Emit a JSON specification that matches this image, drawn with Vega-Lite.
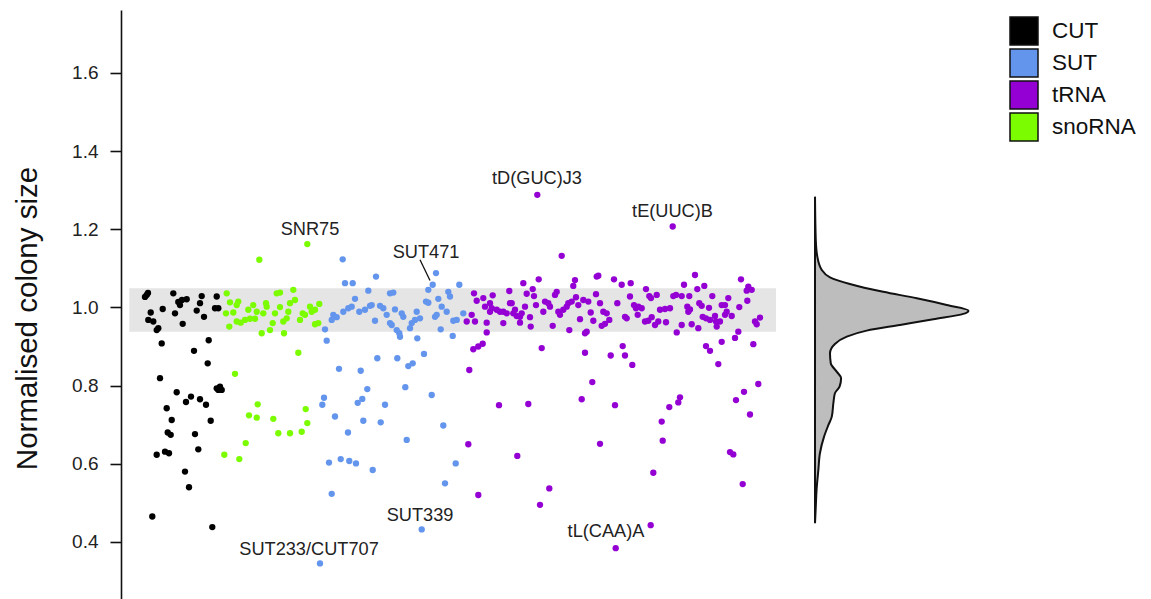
{
"$schema": "https://vega.github.io/schema/vega-lite/v6.json",
"width": 1030, "height": 589,
"autosize": {"type": "none"},
"padding": {"left": 121, "top": 10, "right": 0, "bottom": 0},
"background": "white",
"config": {"view": {"stroke": null}, "font": "Liberation Sans",
 "axisY": {"domainColor": "#111", "domainWidth": 1.6, "tickColor": "#111", "tickWidth": 1.6, "tickSize": 11, "labelFontSize": 19, "labelColor": "#222", "labelPadding": 12, "titleFontSize": 29.5, "titleFontWeight": "normal", "titleColor": "#111", "titlePadding": 29, "titleY": 308, "grid": false}},
"datasets": {
"pts": [
{"x":25.7,"y":1.032,"t":"CUT"},{"x":24,"y":1.027,"t":"CUT"},{"x":27,"y":1.037,"t":"CUT"},{"x":52.3,"y":1.036,"t":"CUT"},{"x":57.3,"y":1.014,"t":"CUT"},{"x":59,"y":1.006,"t":"CUT"},{"x":61,"y":1.019,"t":"CUT"},{"x":65.7,"y":1.021,"t":"CUT"},{"x":80.7,"y":1.029,"t":"CUT"},{"x":79,"y":1.011,"t":"CUT"},{"x":95.7,"y":1.028,"t":"CUT"},{"x":29.7,"y":0.987,"t":"CUT"},{"x":41.7,"y":0.996,"t":"CUT"},{"x":54,"y":0.985,"t":"CUT"},{"x":75.7,"y":0.992,"t":"CUT"},{"x":83,"y":0.976,"t":"CUT"},{"x":94,"y":0.998,"t":"CUT"},{"x":97.3,"y":0.998,"t":"CUT"},{"x":27.3,"y":0.968,"t":"CUT"},{"x":32.3,"y":0.964,"t":"CUT"},{"x":61.7,"y":0.958,"t":"CUT"},{"x":35.7,"y":0.942,"t":"CUT"},{"x":37.3,"y":0.947,"t":"CUT"},{"x":40.7,"y":0.908,"t":"CUT"},{"x":73,"y":0.889,"t":"CUT"},{"x":87.7,"y":0.916,"t":"CUT"},{"x":86.7,"y":0.857,"t":"CUT"},{"x":39,"y":0.819,"t":"CUT"},{"x":55.7,"y":0.783,"t":"CUT"},{"x":70,"y":0.772,"t":"CUT"},{"x":65,"y":0.758,"t":"CUT"},{"x":79,"y":0.765,"t":"CUT"},{"x":85,"y":0.751,"t":"CUT"},{"x":95.7,"y":0.793,"t":"CUT"},{"x":99,"y":0.797,"t":"CUT"},{"x":100.7,"y":0.789,"t":"CUT"},{"x":97.3,"y":0.789,"t":"CUT"},{"x":45.7,"y":0.742,"t":"CUT"},{"x":50.7,"y":0.712,"t":"CUT"},{"x":89.7,"y":0.71,"t":"CUT"},{"x":46.7,"y":0.68,"t":"CUT"},{"x":49.7,"y":0.674,"t":"CUT"},{"x":74,"y":0.676,"t":"CUT"},{"x":77.3,"y":0.637,"t":"CUT"},{"x":35.7,"y":0.623,"t":"CUT"},{"x":44,"y":0.631,"t":"CUT"},{"x":48,"y":0.627,"t":"CUT"},{"x":64,"y":0.58,"t":"CUT"},{"x":68,"y":0.54,"t":"CUT"},{"x":31.3,"y":0.465,"t":"CUT"},{"x":91.3,"y":0.438,"t":"CUT"},
{"x":105.7,"y":1.036,"t":"snoRNA"},{"x":109,"y":1.013,"t":"snoRNA"},{"x":117.3,"y":1.015,"t":"snoRNA"},{"x":115.7,"y":1.006,"t":"snoRNA"},{"x":105,"y":0.985,"t":"snoRNA"},{"x":112.3,"y":0.987,"t":"snoRNA"},{"x":108.3,"y":0.951,"t":"snoRNA"},{"x":115.7,"y":0.964,"t":"snoRNA"},{"x":119.7,"y":0.961,"t":"snoRNA"},{"x":124,"y":0.968,"t":"snoRNA"},{"x":129,"y":0.971,"t":"snoRNA"},{"x":134,"y":0.971,"t":"snoRNA"},{"x":127.3,"y":0.994,"t":"snoRNA"},{"x":132.3,"y":1.006,"t":"snoRNA"},{"x":135.7,"y":0.989,"t":"snoRNA"},{"x":145,"y":1.011,"t":"snoRNA"},{"x":145.7,"y":1.002,"t":"snoRNA"},{"x":142.3,"y":0.985,"t":"snoRNA"},{"x":140.7,"y":0.934,"t":"snoRNA"},{"x":149,"y":0.942,"t":"snoRNA"},{"x":151.7,"y":0.96,"t":"snoRNA"},{"x":155.7,"y":1.036,"t":"snoRNA"},{"x":159,"y":1.038,"t":"snoRNA"},{"x":154,"y":0.985,"t":"snoRNA"},{"x":159,"y":1.001,"t":"snoRNA"},{"x":163,"y":0.934,"t":"snoRNA"},{"x":162.3,"y":0.964,"t":"snoRNA"},{"x":165.7,"y":0.972,"t":"snoRNA"},{"x":167.3,"y":0.989,"t":"snoRNA"},{"x":169,"y":1.011,"t":"snoRNA"},{"x":172.3,"y":1.045,"t":"snoRNA"},{"x":174,"y":1.019,"t":"snoRNA"},{"x":179,"y":0.968,"t":"snoRNA"},{"x":181.7,"y":0.985,"t":"snoRNA"},{"x":184,"y":0.981,"t":"snoRNA"},{"x":189,"y":1.002,"t":"snoRNA"},{"x":190.7,"y":0.989,"t":"snoRNA"},{"x":194,"y":0.994,"t":"snoRNA"},{"x":198.3,"y":1.009,"t":"snoRNA"},{"x":194,"y":0.957,"t":"snoRNA"},{"x":197.3,"y":0.96,"t":"snoRNA"},{"x":177.3,"y":0.884,"t":"snoRNA"},{"x":114,"y":0.83,"t":"snoRNA"},{"x":136.7,"y":0.752,"t":"snoRNA"},{"x":128,"y":0.724,"t":"snoRNA"},{"x":135.7,"y":0.718,"t":"snoRNA"},{"x":152.3,"y":0.715,"t":"snoRNA"},{"x":157.3,"y":0.678,"t":"snoRNA"},{"x":169,"y":0.678,"t":"snoRNA"},{"x":180.7,"y":0.682,"t":"snoRNA"},{"x":184.7,"y":0.74,"t":"snoRNA"},{"x":186.3,"y":0.704,"t":"snoRNA"},{"x":124.7,"y":0.653,"t":"snoRNA"},{"x":103.3,"y":0.623,"t":"snoRNA"},{"x":118.3,"y":0.612,"t":"snoRNA"},{"x":138.3,"y":1.122,"t":"snoRNA"},{"x":186.3,"y":1.162,"t":"snoRNA"},
{"x":204,"y":0.944,"t":"SUT"},{"x":205.7,"y":0.915,"t":"SUT"},{"x":218,"y":0.843,"t":"SUT"},{"x":203,"y":0.769,"t":"SUT"},{"x":201.3,"y":0.751,"t":"SUT"},{"x":214,"y":0.721,"t":"SUT"},{"x":227,"y":0.68,"t":"SUT"},{"x":208,"y":0.603,"t":"SUT"},{"x":219.7,"y":0.612,"t":"SUT"},{"x":228.3,"y":0.607,"t":"SUT"},{"x":210.7,"y":0.523,"t":"SUT"},{"x":199,"y":0.345,"t":"SUT"},
{"x":221.7,"y":1.123,"t":"SUT"},{"x":224,"y":1.062,"t":"SUT"},{"x":231.7,"y":1.062,"t":"SUT"},{"x":255,"y":1.079,"t":"SUT"},{"x":247.3,"y":1.043,"t":"SUT"},{"x":234,"y":1.022,"t":"SUT"},{"x":269,"y":1.036,"t":"SUT"},{"x":272.3,"y":1.038,"t":"SUT"},{"x":315,"y":1.088,"t":"SUT"},{"x":307.3,"y":1.045,"t":"SUT"},{"x":311.7,"y":1.058,"t":"SUT"},{"x":338.3,"y":1.058,"t":"SUT"},{"x":327.3,"y":1.04,"t":"SUT"},{"x":329,"y":1.028,"t":"SUT"},{"x":317.3,"y":1.022,"t":"SUT"},{"x":212.3,"y":0.981,"t":"SUT"},{"x":215.7,"y":0.975,"t":"SUT"},{"x":210.7,"y":0.968,"t":"SUT"},{"x":222.3,"y":0.989,"t":"SUT"},{"x":227.3,"y":0.998,"t":"SUT"},{"x":230.7,"y":1.002,"t":"SUT"},{"x":238.3,"y":0.989,"t":"SUT"},{"x":244,"y":0.994,"t":"SUT"},{"x":249,"y":1.004,"t":"SUT"},{"x":250.7,"y":1.006,"t":"SUT"},{"x":259,"y":1.004,"t":"SUT"},{"x":262.3,"y":0.998,"t":"SUT"},{"x":254,"y":0.966,"t":"SUT"},{"x":265.7,"y":0.981,"t":"SUT"},{"x":269,"y":0.96,"t":"SUT"},{"x":270.7,"y":0.955,"t":"SUT"},{"x":274,"y":0.995,"t":"SUT"},{"x":280.7,"y":0.985,"t":"SUT"},{"x":282.3,"y":0.976,"t":"SUT"},{"x":275.7,"y":0.942,"t":"SUT"},{"x":278.3,"y":0.934,"t":"SUT"},{"x":279,"y":0.925,"t":"SUT"},{"x":290.7,"y":0.96,"t":"SUT"},{"x":289,"y":0.947,"t":"SUT"},{"x":295.7,"y":0.989,"t":"SUT"},{"x":294,"y":0.968,"t":"SUT"},{"x":299,"y":0.972,"t":"SUT"},{"x":305,"y":1.015,"t":"SUT"},{"x":307.3,"y":1.012,"t":"SUT"},{"x":314,"y":0.976,"t":"SUT"},{"x":315.7,"y":0.981,"t":"SUT"},{"x":320.7,"y":1.002,"t":"SUT"},{"x":325.7,"y":0.989,"t":"SUT"},{"x":319.7,"y":0.944,"t":"SUT"},{"x":296.3,"y":0.921,"t":"SUT"},{"x":332.3,"y":0.966,"t":"SUT"},{"x":335.7,"y":0.968,"t":"SUT"},{"x":331.7,"y":0.927,"t":"SUT"},{"x":342.3,"y":0.985,"t":"SUT"},{"x":303,"y":0.881,"t":"SUT"},{"x":256.3,"y":0.87,"t":"SUT"},{"x":276.3,"y":0.87,"t":"SUT"},{"x":287.3,"y":0.85,"t":"SUT"},{"x":291.7,"y":0.857,"t":"SUT"},{"x":239.7,"y":0.838,"t":"SUT"},{"x":246.3,"y":0.791,"t":"SUT"},{"x":236.7,"y":0.756,"t":"SUT"},{"x":241.3,"y":0.766,"t":"SUT"},{"x":264,"y":0.751,"t":"SUT"},{"x":284.3,"y":0.796,"t":"SUT"},{"x":310.7,"y":0.776,"t":"SUT"},{"x":242.3,"y":0.71,"t":"SUT"},{"x":259.7,"y":0.706,"t":"SUT"},{"x":322.3,"y":0.698,"t":"SUT"},{"x":285.7,"y":0.661,"t":"SUT"},{"x":251.7,"y":0.584,"t":"SUT"},{"x":334.7,"y":0.601,"t":"SUT"},{"x":324,"y":0.55,"t":"SUT"},{"x":300.7,"y":0.432,"t":"SUT"},{"x":235,"y":0.601,"t":"SUT"},
{"x":353,"y":1.036,"t":"tRNA"},{"x":355.7,"y":1.017,"t":"tRNA"},{"x":345.7,"y":0.964,"t":"tRNA"},{"x":354,"y":0.964,"t":"tRNA"},{"x":350.7,"y":0.981,"t":"tRNA"},{"x":352.3,"y":0.893,"t":"tRNA"},{"x":357.3,"y":0.9,"t":"tRNA"},{"x":348.3,"y":0.84,"t":"tRNA"},{"x":347.3,"y":0.65,"t":"tRNA"},{"x":357.3,"y":0.52,"t":"tRNA"},
{"x":416.3,"y":1.288,"t":"tRNA"},{"x":440.7,"y":1.132,"t":"tRNA"},{"x":417.7,"y":1.072,"t":"tRNA"},{"x":402.3,"y":1.062,"t":"tRNA"},{"x":411.7,"y":1.047,"t":"tRNA"},{"x":388.3,"y":1.042,"t":"tRNA"},{"x":371.7,"y":1.031,"t":"tRNA"},{"x":362.3,"y":1.024,"t":"tRNA"},{"x":364,"y":1.002,"t":"tRNA"},{"x":369,"y":1.011,"t":"tRNA"},{"x":370.7,"y":0.998,"t":"tRNA"},{"x":369,"y":0.989,"t":"tRNA"},{"x":375.7,"y":0.994,"t":"tRNA"},{"x":379,"y":0.989,"t":"tRNA"},{"x":382.3,"y":0.989,"t":"tRNA"},{"x":385.7,"y":0.985,"t":"tRNA"},{"x":389,"y":1.011,"t":"tRNA"},{"x":390.7,"y":1.011,"t":"tRNA"},{"x":392.3,"y":0.985,"t":"tRNA"},{"x":395.7,"y":0.978,"t":"tRNA"},{"x":394,"y":0.994,"t":"tRNA"},{"x":399,"y":0.976,"t":"tRNA"},{"x":400.7,"y":0.985,"t":"tRNA"},{"x":404,"y":1.002,"t":"tRNA"},{"x":405.7,"y":1.035,"t":"tRNA"},{"x":413,"y":1.029,"t":"tRNA"},{"x":415,"y":1.006,"t":"tRNA"},{"x":422.3,"y":0.989,"t":"tRNA"},{"x":424,"y":1.015,"t":"tRNA"},{"x":427.3,"y":1.011,"t":"tRNA"},{"x":429,"y":1.002,"t":"tRNA"},{"x":434,"y":1.032,"t":"tRNA"},{"x":435.7,"y":1.04,"t":"tRNA"},{"x":437.3,"y":0.989,"t":"tRNA"},{"x":439,"y":0.981,"t":"tRNA"},{"x":442.3,"y":0.994,"t":"tRNA"},{"x":445.7,"y":1.002,"t":"tRNA"},{"x":447.3,"y":1.011,"t":"tRNA"},{"x":450.7,"y":1.015,"t":"tRNA"},{"x":452.3,"y":1.055,"t":"tRNA"},{"x":454,"y":1.07,"t":"tRNA"},{"x":455,"y":1.026,"t":"tRNA"},{"x":457.3,"y":1.006,"t":"tRNA"},{"x":462.3,"y":1.019,"t":"tRNA"},{"x":467.3,"y":1.015,"t":"tRNA"},{"x":469.7,"y":0.987,"t":"tRNA"},{"x":475.7,"y":1.079,"t":"tRNA"},{"x":477.3,"y":1.081,"t":"tRNA"},{"x":475,"y":1.034,"t":"tRNA"},{"x":479,"y":1.011,"t":"tRNA"},{"x":482.3,"y":0.989,"t":"tRNA"},{"x":485.7,"y":0.985,"t":"tRNA"},{"x":493,"y":1.072,"t":"tRNA"},{"x":496.3,"y":1.011,"t":"tRNA"},{"x":365.7,"y":0.961,"t":"tRNA"},{"x":382.3,"y":0.96,"t":"tRNA"},{"x":399,"y":0.961,"t":"tRNA"},{"x":409,"y":0.975,"t":"tRNA"},{"x":409.7,"y":0.951,"t":"tRNA"},{"x":431.7,"y":0.953,"t":"tRNA"},{"x":448.3,"y":0.942,"t":"tRNA"},{"x":459,"y":0.97,"t":"tRNA"},{"x":464,"y":0.934,"t":"tRNA"},{"x":465.7,"y":0.938,"t":"tRNA"},{"x":472.3,"y":0.966,"t":"tRNA"},{"x":480.7,"y":0.953,"t":"tRNA"},{"x":484,"y":0.958,"t":"tRNA"},{"x":365.7,"y":0.936,"t":"tRNA"},{"x":361.7,"y":0.907,"t":"tRNA"},{"x":420.7,"y":0.896,"t":"tRNA"},{"x":464,"y":0.884,"t":"tRNA"},{"x":489.7,"y":0.877,"t":"tRNA"},{"x":471.3,"y":0.809,"t":"tRNA"},{"x":378,"y":0.75,"t":"tRNA"},{"x":407.3,"y":0.753,"t":"tRNA"},{"x":460.7,"y":0.765,"t":"tRNA"},{"x":494,"y":0.75,"t":"tRNA"},{"x":396.3,"y":0.62,"t":"tRNA"},{"x":479,"y":0.651,"t":"tRNA"},{"x":428.3,"y":0.537,"t":"tRNA"},{"x":419,"y":0.495,"t":"tRNA"},{"x":494.7,"y":0.384,"t":"tRNA"},
{"x":551.7,"y":1.207,"t":"tRNA"},{"x":500.7,"y":1.058,"t":"tRNA"},{"x":509.7,"y":1.062,"t":"tRNA"},{"x":525,"y":1.047,"t":"tRNA"},{"x":528.3,"y":1.029,"t":"tRNA"},{"x":530,"y":1.024,"t":"tRNA"},{"x":535.7,"y":1.032,"t":"tRNA"},{"x":509,"y":1.028,"t":"tRNA"},{"x":513,"y":1.006,"t":"tRNA"},{"x":515,"y":0.998,"t":"tRNA"},{"x":517.3,"y":1.002,"t":"tRNA"},{"x":520.7,"y":0.998,"t":"tRNA"},{"x":504,"y":0.976,"t":"tRNA"},{"x":505.7,"y":0.972,"t":"tRNA"},{"x":516.7,"y":0.981,"t":"tRNA"},{"x":524,"y":0.964,"t":"tRNA"},{"x":527.3,"y":0.966,"t":"tRNA"},{"x":530.7,"y":0.975,"t":"tRNA"},{"x":534,"y":0.955,"t":"tRNA"},{"x":537.3,"y":0.964,"t":"tRNA"},{"x":539,"y":0.994,"t":"tRNA"},{"x":544,"y":0.996,"t":"tRNA"},{"x":549,"y":0.998,"t":"tRNA"},{"x":545,"y":0.962,"t":"tRNA"},{"x":488.3,"y":0.968,"t":"tRNA"},{"x":552.3,"y":1.029,"t":"tRNA"},{"x":555,"y":1.032,"t":"tRNA"},{"x":560.7,"y":1.029,"t":"tRNA"},{"x":568.3,"y":1.029,"t":"tRNA"},{"x":563,"y":1.058,"t":"tRNA"},{"x":574,"y":1.083,"t":"tRNA"},{"x":576.3,"y":1.047,"t":"tRNA"},{"x":583.3,"y":1.055,"t":"tRNA"},{"x":566.3,"y":1.002,"t":"tRNA"},{"x":567.3,"y":0.989,"t":"tRNA"},{"x":569,"y":0.995,"t":"tRNA"},{"x":578.3,"y":1.011,"t":"tRNA"},{"x":580.7,"y":1.004,"t":"tRNA"},{"x":588,"y":0.999,"t":"tRNA"},{"x":591.3,"y":1.029,"t":"tRNA"},{"x":581.7,"y":0.976,"t":"tRNA"},{"x":585,"y":0.972,"t":"tRNA"},{"x":589,"y":0.968,"t":"tRNA"},{"x":594,"y":0.978,"t":"tRNA"},{"x":595,"y":0.964,"t":"tRNA"},{"x":599,"y":0.964,"t":"tRNA"},{"x":595.7,"y":0.951,"t":"tRNA"},{"x":600.7,"y":1.006,"t":"tRNA"},{"x":604,"y":1.006,"t":"tRNA"},{"x":607.3,"y":1.024,"t":"tRNA"},{"x":604,"y":0.981,"t":"tRNA"},{"x":605.7,"y":0.989,"t":"tRNA"},{"x":610.7,"y":0.978,"t":"tRNA"},{"x":618.3,"y":1.001,"t":"tRNA"},{"x":620,"y":1.072,"t":"tRNA"},{"x":625.7,"y":1.043,"t":"tRNA"},{"x":627.3,"y":1.053,"t":"tRNA"},{"x":630.7,"y":1.045,"t":"tRNA"},{"x":626.3,"y":1.017,"t":"tRNA"},{"x":634,"y":0.964,"t":"tRNA"},{"x":635.7,"y":0.957,"t":"tRNA"},{"x":639,"y":0.974,"t":"tRNA"},{"x":560.7,"y":0.955,"t":"tRNA"},{"x":570.7,"y":0.957,"t":"tRNA"},{"x":577.3,"y":0.947,"t":"tRNA"},{"x":555.7,"y":0.936,"t":"tRNA"},{"x":617.3,"y":0.938,"t":"tRNA"},{"x":614,"y":0.922,"t":"tRNA"},{"x":600.7,"y":0.912,"t":"tRNA"},{"x":632.3,"y":0.906,"t":"tRNA"},{"x":585,"y":0.901,"t":"tRNA"},{"x":589,"y":0.889,"t":"tRNA"},{"x":597.3,"y":0.855,"t":"tRNA"},{"x":501.7,"y":0.901,"t":"tRNA"},{"x":504,"y":0.877,"t":"tRNA"},{"x":511.3,"y":0.853,"t":"tRNA"},{"x":637.3,"y":0.804,"t":"tRNA"},{"x":623,"y":0.784,"t":"tRNA"},{"x":615,"y":0.763,"t":"tRNA"},{"x":559,"y":0.77,"t":"tRNA"},{"x":557.3,"y":0.757,"t":"tRNA"},{"x":548.3,"y":0.745,"t":"tRNA"},{"x":540.7,"y":0.708,"t":"tRNA"},{"x":541.7,"y":0.659,"t":"tRNA"},{"x":629,"y":0.726,"t":"tRNA"},{"x":609,"y":0.63,"t":"tRNA"},{"x":612.3,"y":0.624,"t":"tRNA"},{"x":532.3,"y":0.577,"t":"tRNA"},{"x":621.7,"y":0.548,"t":"tRNA"},{"x":529.7,"y":0.443,"t":"tRNA"}
],
"dens": [
{"y":1.2835,"d":0},{"y":1.1727,"d":0.03},{"y":1.13,"d":0.09},{"y":1.096,"d":0.26},{"y":1.077,"d":0.58},{"y":1.06,"d":1.35},{"y":1.04,"d":2.64},{"y":1.0235,"d":3.94},{"y":1.0064,"d":5.1},{"y":0.9918,"d":5.94},{"y":0.9834,"d":5.74},{"y":0.9698,"d":4.58},{"y":0.9552,"d":3.29},{"y":0.9406,"d":2.0},{"y":0.9253,"d":1.23},{"y":0.9066,"d":0.77},{"y":0.8828,"d":0.58},{"y":0.8572,"d":0.61},{"y":0.8357,"d":0.84},{"y":0.8188,"d":1.01},{"y":0.7974,"d":0.95},{"y":0.7805,"d":0.77},{"y":0.7549,"d":0.71},{"y":0.7206,"d":0.65},{"y":0.6994,"d":0.52},{"y":0.6694,"d":0.35},{"y":0.6269,"d":0.19},{"y":0.5842,"d":0.13},{"y":0.533,"d":0.06},{"y":0.4903,"d":0.03},{"y":0.4478,"d":0}
],
"labels": [
{"x":189,"y":1.198,"label":"SNR75"},{"x":305,"y":1.139,"label":"SUT471"},{"x":416,"y":1.329,"label":"tD(GUC)J3"},{"x":551.5,"y":1.244,"label":"tE(UUC)B"},{"x":299,"y":0.467,"label":"SUT339"},{"x":188,"y":0.38,"label":"SUT233/CUT707"},{"x":485,"y":0.426,"label":"tL(CAA)A"}
],
"band": [{"x":8.3,"x2":655,"y":0.938,"y2":1.049}],
"leader": [{"x":299,"x2":309,"y":1.122,"y2":1.069}]
},
"layer": [
{"layer": [
 {"data": {"name": "band"}, "mark": {"type": "rect", "color": "#e5e5e5"},
  "encoding": {
   "x": {"field": "x", "type": "quantitative", "scale": {"domain": [0, 1030]}, "axis": null},
   "x2": {"field": "x2"},
   "y": {"field": "y", "type": "quantitative", "scale": {"domain": [0.254, 1.761], "nice": false, "zero": false}, "axis": {"title": "Normalised colony size", "values": [0.4,0.6,0.8,1.0,1.2,1.4,1.6], "format": ".1f"}},
   "y2": {"field": "y2"}}},
 {"data": {"name": "pts"}, "mark": {"type": "circle", "size": 40, "opacity": 1},
  "encoding": {
   "x": {"field": "x", "type": "quantitative", "scale": {"domain": [0, 1030]}, "axis": null},
   "y": {"field": "y", "type": "quantitative", "scale": {"domain": [0.254, 1.761], "nice": false, "zero": false}, "axis": {"title": "Normalised colony size", "values": [0.4,0.6,0.8,1.0,1.2,1.4,1.6], "format": ".1f"}},
   "color": {"field": "t", "type": "nominal", "scale": {"domain": ["CUT","SUT","tRNA","snoRNA"], "range": ["#000000","#6495ED","#9400D3","#7CFC00"]},
     "legend": {"title": null, "orient": "none", "legendX": 888, "legendY": 6, "symbolType": "square", "symbolSize": 784, "symbolStrokeColor": "#111", "symbolStrokeWidth": 1.5, "symbolOpacity": 1, "labelFontSize": 22.5, "labelColor": "#111", "labelOffset": 13, "rowPadding": -2, "padding": 0}}}},
 {"data": {"name": "leader"}, "mark": {"type": "rule", "color": "#111", "strokeWidth": 1.3},
  "encoding": {
   "x": {"field": "x", "type": "quantitative", "scale": {"domain": [0, 1030]}, "axis": null},
   "x2": {"field": "x2"},
   "y": {"field": "y", "type": "quantitative", "scale": {"domain": [0.254, 1.761], "nice": false, "zero": false}, "axis": {"title": "Normalised colony size", "values": [0.4,0.6,0.8,1.0,1.2,1.4,1.6], "format": ".1f"}},
   "y2": {"field": "y2"}}},
 {"data": {"name": "labels"}, "mark": {"type": "text", "fontSize": 18.2, "color": "#222", "baseline": "middle", "align": "center"},
  "encoding": {
   "x": {"field": "x", "type": "quantitative", "scale": {"domain": [0, 1030]}, "axis": null},
   "y": {"field": "y", "type": "quantitative", "scale": {"domain": [0.254, 1.761], "nice": false, "zero": false}, "axis": {"title": "Normalised colony size", "values": [0.4,0.6,0.8,1.0,1.2,1.4,1.6], "format": ".1f"}},
   "text": {"field": "label"}}}
]},
{"data": {"name": "dens"}, "mark": {"type": "area", "orient": "horizontal", "fill": "#bdbdbd", "stroke": "#111", "strokeWidth": 2, "interpolate": "monotone"},
 "encoding": {
  "x": {"field": "d", "type": "quantitative", "stack": null, "scale": {"domain": [-26.865, 13.006], "nice": false, "zero": false}, "axis": null},
  "y": {"field": "y", "type": "quantitative", "scale": {"domain": [0.254, 1.761], "nice": false, "zero": false}, "axis": {"title": "Normalised colony size", "values": [0.4,0.6,0.8,1.0,1.2,1.4,1.6], "format": ".1f"}}}}
],
"resolve": {"scale": {"x": "independent"}}
}
